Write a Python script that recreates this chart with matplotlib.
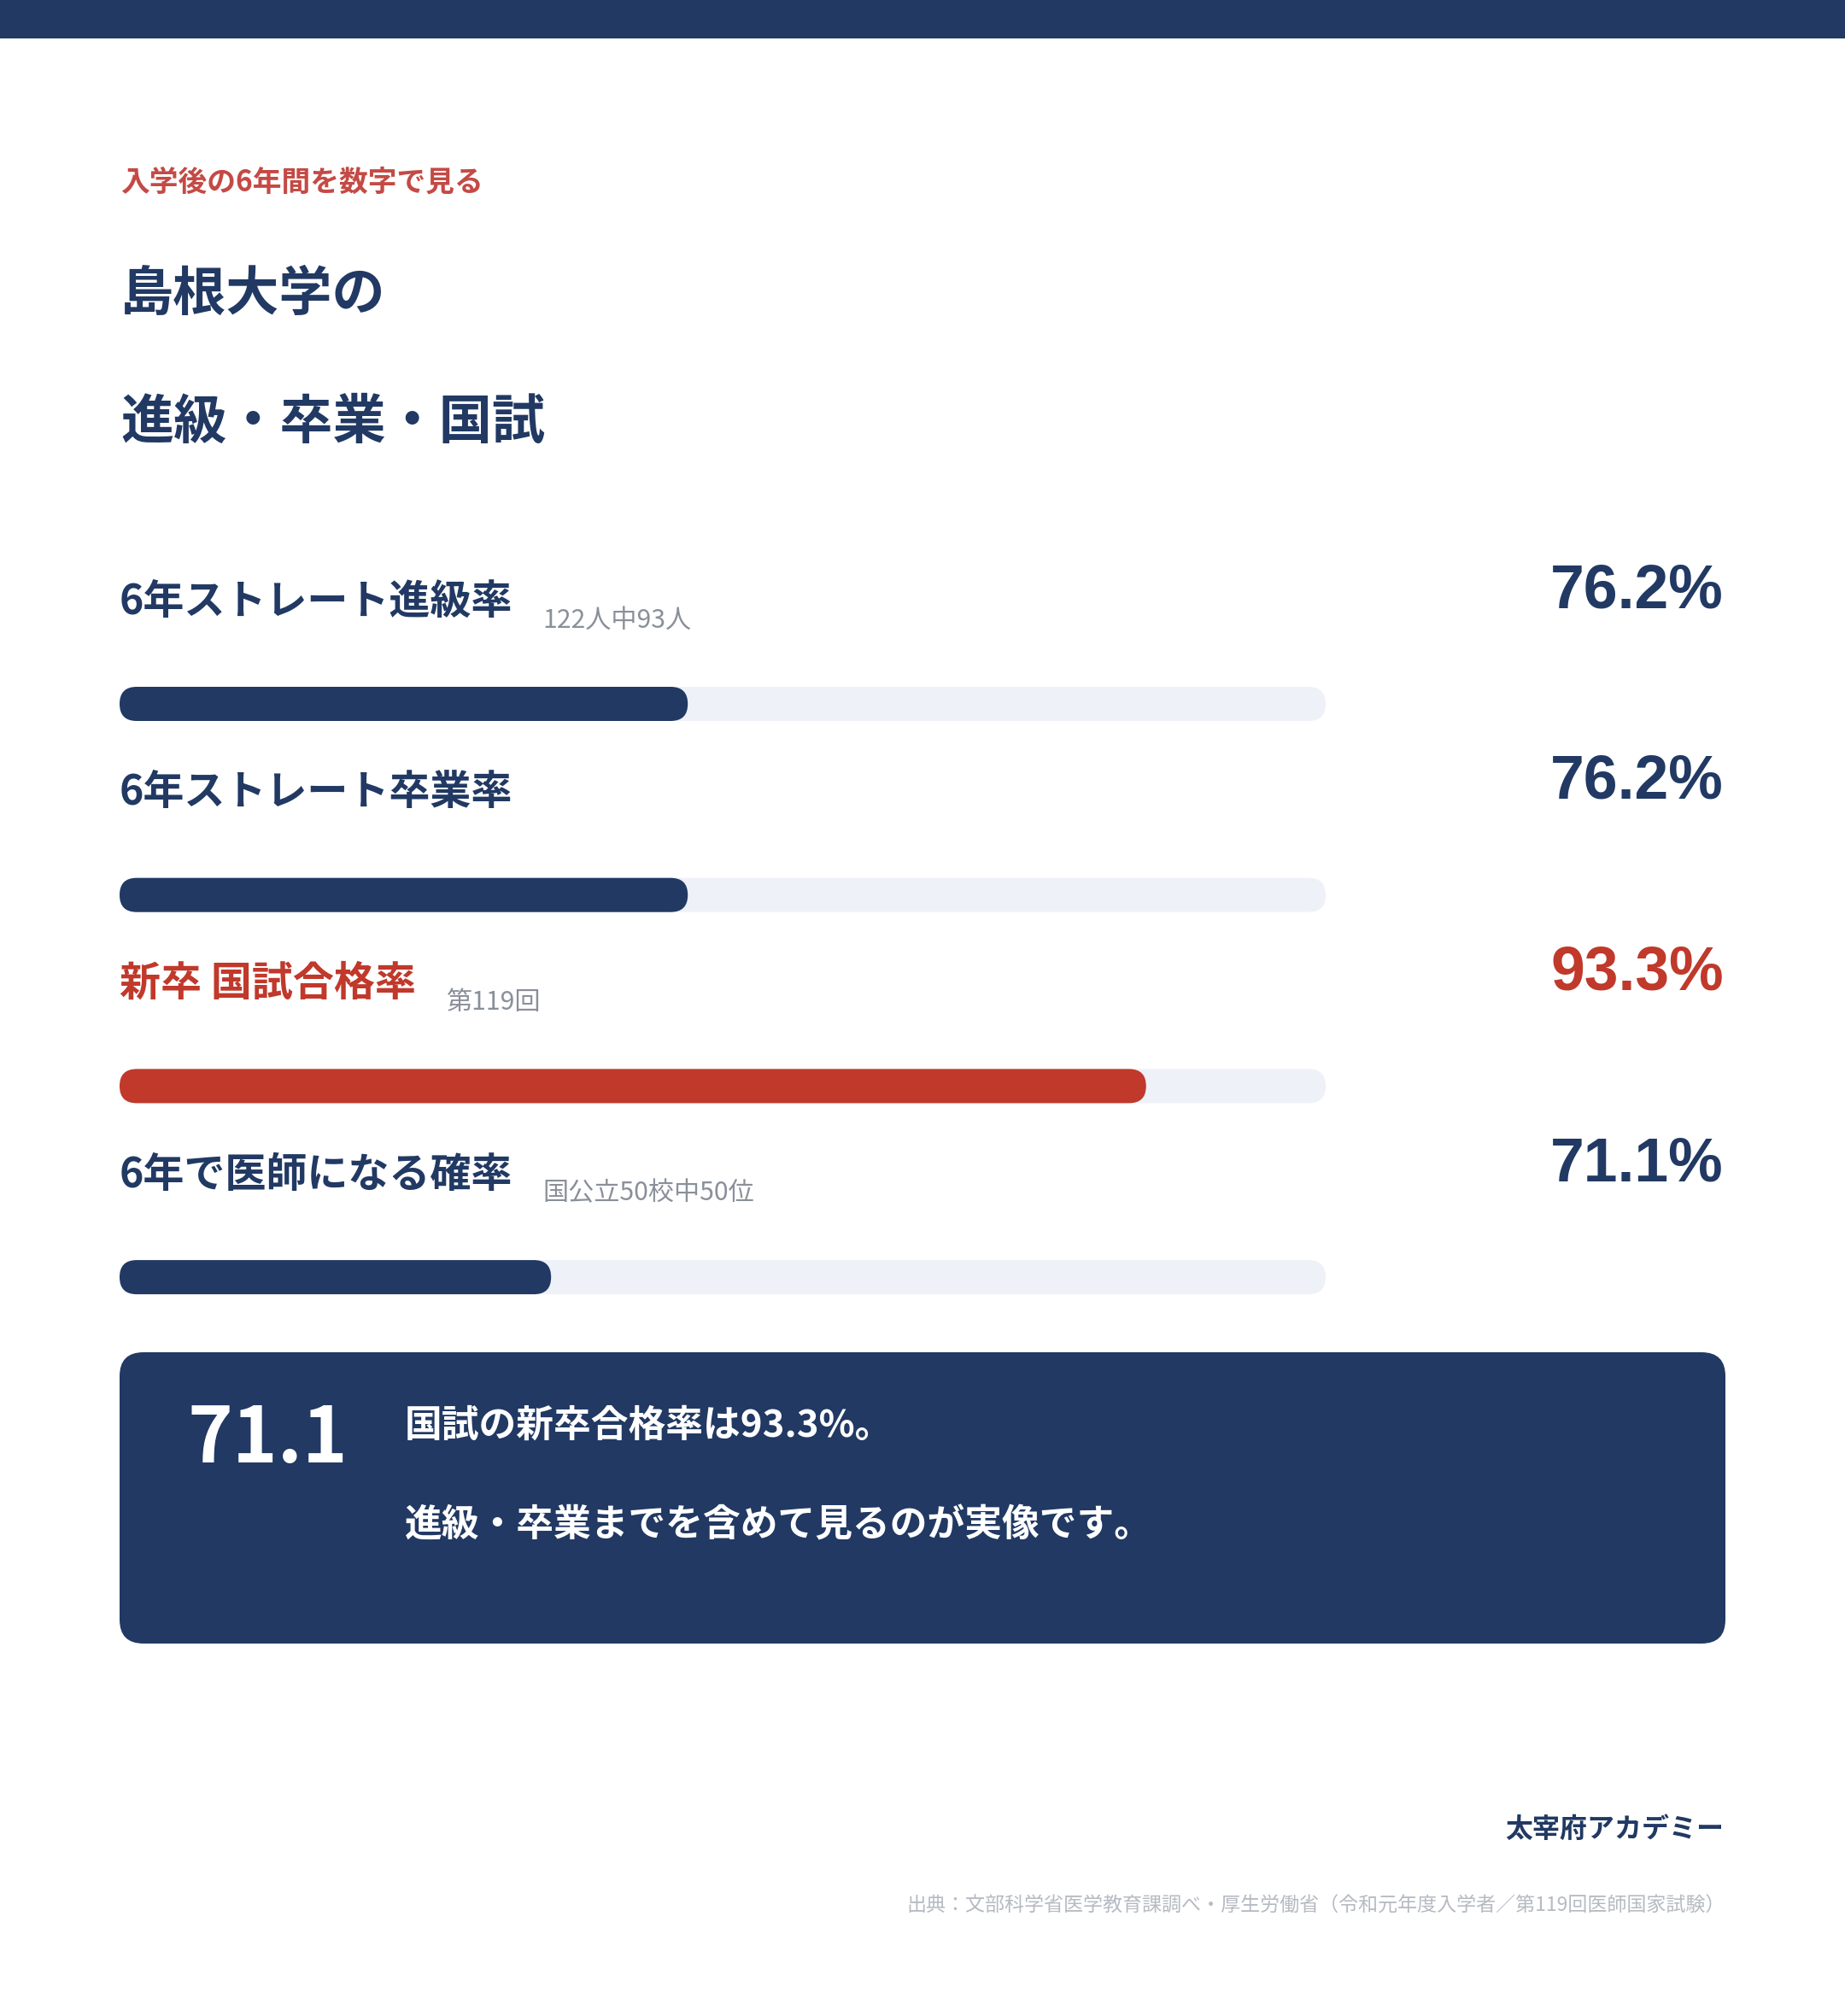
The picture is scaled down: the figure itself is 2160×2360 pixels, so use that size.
import matplotlib
matplotlib.use("Agg")
import matplotlib.pyplot as plt
from matplotlib.patches import FancyBboxPatch, Rectangle
from matplotlib.patches import BoxStyle

plt.rcParams['font.family'] = ['Noto Sans CJK JP', 'DejaVu Sans']

# data
kicker = "入学後の6年間を数字で見る"
title_lines = ["島根大学の", "進級・卒業・国試"]
labels = ["6年ストレート進級率", "6年ストレート卒業率", "新卒 国試合格率", "6年で医師になる確率"]
sublabels = ["122人中93人", "", "第119回", "国公立50校中50位"]
values = [76.2, 76.2, 93.3, 71.1]
highlight = [False, False, True, False]
bar_min, bar_max = 55, 100
callout_value = values[3]
callout_lines = [f"国試の新卒合格率は{values[2]}%。", "進級・卒業までを含めて見るのが実像です。"]
brand = "太宰府アカデミー"
source = "出典：文部科学省医学教育課調べ・厚生労働省（令和元年度入学者／第119回医師国家試験）"

NAVY = "#213963"
RED = "#C0392B"
KICKER_RED = "#C44A45"
TRACK = "#EEF1F8"
GRAY = "#8A909A"
LIGHT_GRAY = "#B6BAC2"

W, H = 2160, 2360
fig = plt.figure(figsize=(W / 100, H / 100), dpi=100)
fig.patch.set_facecolor("white")

ax = fig.add_axes([0, 0, 1, 1])
ax.set_xlim(0, W)
ax.set_ylim(H, 0)
ax.axis("off")

# top band
ax.add_patch(Rectangle((0, 0), W, 45, color=NAVY, lw=0))

left = 141
ax.text(left, 213, kicker, fontsize=24.3, fontweight="bold", color=KICKER_RED, va="center")
for yy, line in zip([344, 494], title_lines):
    ax.text(left, yy, line, fontsize=44.7, fontweight="bold", color=NAVY, va="center")

# rows
row_step = 223.7
label_y0, value_base0, bar_y0 = 704, 711, 824
bar_x0, bar_x1 = 140, 1552
bar_h = 40

ax_bar = fig.add_axes([bar_x0 / W, 0, (bar_x1 - bar_x0) / W, 1])
ax_bar.set_xlim(bar_min, bar_max)
ax_bar.set_ylim(H, 0)
ax_bar.axis("off")
px_per_unit = (bar_x1 - bar_x0) / (bar_max - bar_min)
rs = (bar_h / 2) / px_per_unit

for i, (lab, sub, val, hl) in enumerate(zip(labels, sublabels, values, highlight)):
    col = RED if hl else NAVY
    ly = label_y0 + i * row_step
    t = ax.text(left - 1, ly, lab, fontsize=34.6, fontweight="bold", color=col, va="center")
    if sub:
        ax.annotate(sub, xy=(1, ly + 22), xycoords=(t, "data"), xytext=(35, 0),
                    textcoords="offset pixels", fontsize=21.7, color=GRAY, va="center")
    ax.text(2018, value_base0 + i * row_step, f"{val:.1f}%", fontsize=51.5, fontweight="bold",
            color=col, ha="right", va="baseline", family=["Liberation Sans", "DejaVu Sans"])

    by = bar_y0 + i * row_step
    track = FancyBboxPatch((bar_min, by - bar_h / 2), bar_max - bar_min, bar_h,
                           boxstyle=BoxStyle.Round(pad=0, rounding_size=rs),
                           mutation_aspect=px_per_unit, fc=TRACK, ec="none")
    fill = FancyBboxPatch((bar_min, by - bar_h / 2), val - bar_min, bar_h,
                          boxstyle=BoxStyle.Round(pad=0, rounding_size=rs),
                          mutation_aspect=px_per_unit, fc=col, ec="none")
    ax_bar.add_patch(track)
    ax_bar.add_patch(fill)

# callout box
box = FancyBboxPatch((140, 1583), 1880, 341, boxstyle=BoxStyle.Round(pad=0, rounding_size=28),
                     fc=NAVY, ec="none")
ax.add_patch(box)
ax.text(219, 1685, f"{callout_value}", fontsize=64.5, fontweight="bold", color="white", va="center")
for yy, line in zip([1669, 1785], callout_lines):
    ax.text(474, yy, line, fontsize=31.5, fontweight="bold", color="white", va="center")

# footer
ax.text(2018, 2142, brand, fontsize=23, fontweight="bold", color=NAVY, ha="right", va="center")
ax.text(2020, 2231, source, fontsize=16.6, color=LIGHT_GRAY, ha="right", va="center")

fig.savefig("out.png", dpi=100, facecolor="white")
